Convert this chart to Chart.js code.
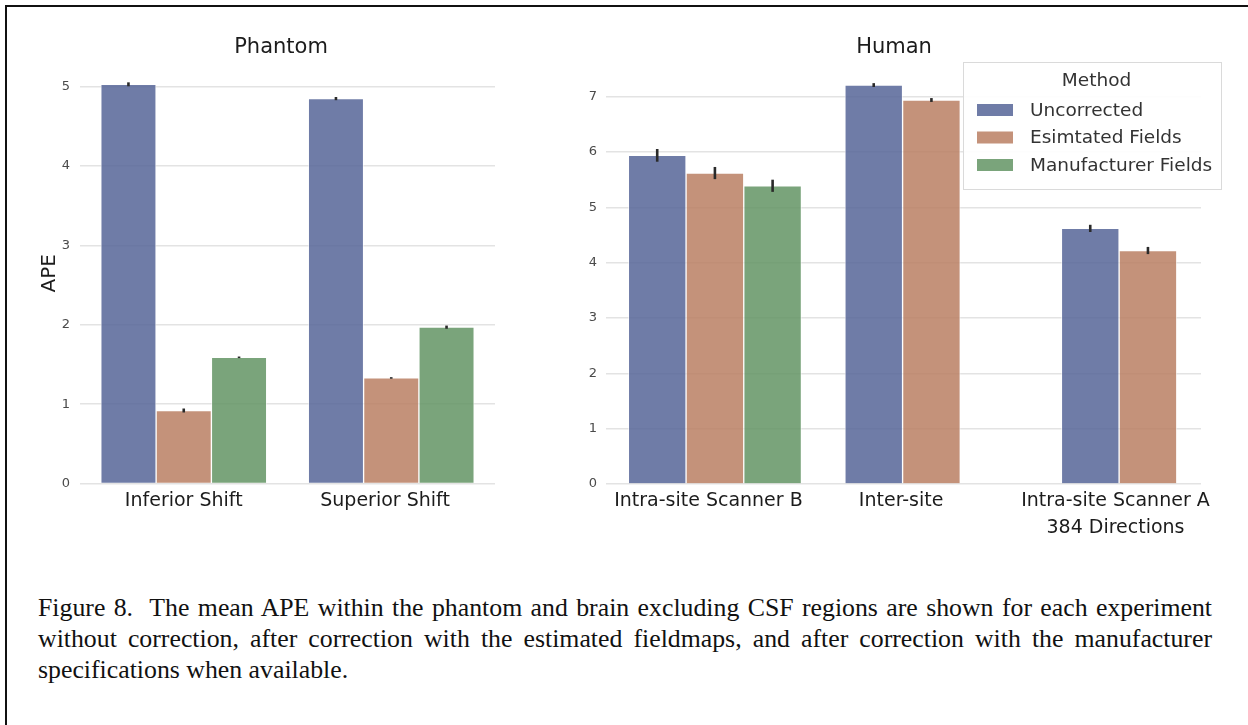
<!DOCTYPE html>
<html>
<head>
<meta charset="utf-8">
<script src="https://cdn.jsdelivr.net/npm/chart.js@4.4.0/dist/chart.umd.min.js"></script>
<style>
body { margin: 0; background: #fff; }
#page { position: relative; width: 1248px; height: 725px; overflow: hidden; background: #fff; }
#frame { position: absolute; left: 5px; top: 5px; width: 1300px; height: 800px; border-top: 2px solid #111; border-left: 2px solid #111; }
#c1 { position: absolute; left: 0; top: 0; }
#c2 { position: absolute; left: 587px; top: 0; }
#caption { position: absolute; left: 38px; top: 592px; width: 1174px; font-family: 'Liberation Serif', serif; font-size: 25.8px; line-height: 31px; color: #111; }
#caption .j { text-align: justify; text-align-last: justify; white-space: nowrap; }
</style>
</head>
<body>
<div id="page">
  <div id="frame"></div>
  <canvas id="c1" width="560" height="560"></canvas>
  <canvas id="c2" width="700" height="560"></canvas>
  <div id="caption">
    <div class="j">Figure 8.&nbsp; The mean APE within the phantom and brain excluding CSF regions are shown for each experiment</div>
    <div class="j">without correction, after correction with the estimated fieldmaps, and after correction with the manufacturer</div>
    <div>specifications when available.</div>
  </div>
</div>
<script>
// values
var methods = ['Uncorrected', 'Esimtated Fields', 'Manufacturer Fields'];

var phantomCategories = ['Inferior Shift', 'Superior Shift'];
var phantomUncorrected = [5.03, 4.85];
var phantomEstimated = [0.92, 1.33];
var phantomManufacturer = [1.59, 1.97];
var phantomUncorrectedErr = [0.025, 0.02];
var phantomEstimatedErr = [0.025, 0.01];
var phantomManufacturerErr = [0.01, 0.02];
var phantomTicks = [0, 1, 2, 3, 4, 5];

var humanCategories = [['Intra-site Scanner B'], ['Inter-site'], ['Intra-site Scanner A', '384 Directions']];
var humanUncorrected = [5.94, 7.21, 4.62];
var humanEstimated = [5.62, 6.94, 4.22];
var humanManufacturer = [5.39, null, null];
var humanUncorrectedErr = [0.115, 0.035, 0.065];
var humanEstimatedErr = [0.11, 0.035, 0.065];
var humanManufacturerErr = [0.11, null, null];
var humanTicks = [0, 1, 2, 3, 4, 5, 6, 7];

// the category labels in the figure sit a little left of their groups
var phantomLabelShift = [0, -0.03];
var humanLabelShift = [-0.03, -0.14, -0.15];

var colors = ['rgba(86,101,152,0.85)', 'rgba(186,127,99,0.85)', 'rgba(99,148,100,0.85)'];
var textColor = '#1c1c1c';

Chart.defaults.font.family = "'DejaVu Sans', sans-serif";

function makeDataset(i, values, errs, thickness) {
  return {
    label: methods[i],
    data: values.map(function (v, k) { return { x: k, y: v }; }),
    errors: errs,
    backgroundColor: colors[i],
    borderColor: 'rgba(255,255,255,0.55)',
    borderWidth: 1,
    barThickness: thickness
  };
}

var errorBars = {
  id: 'errorBars',
  afterDatasetsDraw: function (chart) {
    var ctx = chart.ctx;
    var yScale = chart.scales.y;
    ctx.save();
    ctx.strokeStyle = '#2a2a2a';
    ctx.lineWidth = 2.6;
    chart.data.datasets.forEach(function (ds, di) {
      var meta = chart.getDatasetMeta(di);
      ds.errors.forEach(function (e, i) {
        var v = ds.data[i].y;
        if (v == null || e == null) return;
        var bar = meta.data[i];
        ctx.beginPath();
        ctx.moveTo(bar.x, yScale.getPixelForValue(v - e));
        ctx.lineTo(bar.x, yScale.getPixelForValue(v + e));
        ctx.stroke();
      });
    });
    ctx.restore();
  }
};

var methodLegend = {
  id: 'methodLegend',
  afterDraw: function (chart) {
    var ctx = chart.ctx;
    var x = 376, y = 62, w = 259, h = 128;
    ctx.save();
    ctx.fillStyle = 'rgba(255,255,255,0.92)';
    ctx.fillRect(x, y, w, h);
    ctx.strokeStyle = '#dadada';
    ctx.lineWidth = 1;
    ctx.strokeRect(x + 0.5, y + 0.5, w - 1, h - 1);
    ctx.font = "18.5px 'DejaVu Sans'";
    ctx.fillStyle = '#333';
    ctx.textBaseline = 'middle';
    ctx.textAlign = 'center';
    ctx.fillText('Method', x + w / 2 + 4, 81);
    ctx.textAlign = 'left';
    chart.data.datasets.forEach(function (ds, i) {
      var cy = 110 + i * 27.5;
      ctx.fillStyle = ds.backgroundColor;
      ctx.fillRect(x + 14, cy - 6, 36, 12);
      ctx.fillStyle = '#333';
      ctx.fillText(ds.label, x + 67, cy + 1);
    });
    ctx.restore();
  }
};

new Chart(document.getElementById('c1'), {
  type: 'bar',
  data: {
    datasets: [
      makeDataset(0, phantomUncorrected, phantomUncorrectedErr, 55.3),
      makeDataset(1, phantomEstimated, phantomEstimatedErr, 55.3),
      makeDataset(2, phantomManufacturer, phantomManufacturerErr, 55.3)
    ]
  },
  options: {
    responsive: false,
    animation: false,
    layout: { padding: { left: 60, right: 58, top: 35.4, bottom: 0 } },
    plugins: {
      legend: { display: false },
      tooltip: { enabled: false },
      title: {
        display: true, text: 'Phantom', color: textColor,
        font: { size: 21, weight: 'normal' },
        padding: { top: 0, bottom: 2.3 }
      }
    },
    scales: {
      x: {
        type: 'linear', min: -0.5, max: 1.5, offset: false,
        grid: { display: false, drawTicks: false },
        border: { display: false },
        afterBuildTicks: function (s) {
          s.ticks = phantomCategories.map(function (c, i) { return { value: i + phantomLabelShift[i] }; });
        },
        afterFit: function (s) { s.height = 76.5; },
        ticks: {
          autoSkip: false, maxRotation: 0, padding: 6, color: textColor,
          font: { size: 19 },
          callback: function (v, i) { return phantomCategories[i]; }
        }
      },
      y: {
        min: 0, max: 5.3,
        afterBuildTicks: function (s) { s.ticks = phantomTicks.map(function (v) { return { value: v }; }); },
        afterFit: function (s) { s.width = 20; },
        grid: { color: '#e3e3e3', lineWidth: 1.6, drawTicks: false },
        border: { display: false },
        ticks: { padding: 10, color: '#4a4a4a', font: { size: 13 } },
        title: {
          display: true, text: 'APE', color: textColor,
          font: { size: 20 },
          padding: { top: -22.5, bottom: 0 }
        }
      },
      // empty right box so the title centres a little left of the plot centre
      yRight: {
        position: 'right', display: true,
        grid: { display: false, drawTicks: false },
        border: { display: false },
        ticks: { display: false },
        afterFit: function (s) { s.width = 7; }
      }
    }
  },
  plugins: [errorBars]
});

new Chart(document.getElementById('c2'), {
  type: 'bar',
  data: {
    datasets: [
      makeDataset(0, humanUncorrected, humanUncorrectedErr, 57.7),
      makeDataset(1, humanEstimated, humanEstimatedErr, 57.7),
      makeDataset(2, humanManufacturer, humanManufacturerErr, 57.7)
    ]
  },
  options: {
    responsive: false,
    animation: false,
    layout: { padding: { left: 0, right: 86, top: 35.4, bottom: 0 } },
    plugins: {
      legend: { display: false },
      tooltip: { enabled: false },
      title: {
        display: true, text: 'Human', color: textColor,
        font: { size: 21, weight: 'normal' },
        padding: { top: 0, bottom: 2.9 }
      }
    },
    scales: {
      x: {
        type: 'linear', min: -0.503, max: 2.245, offset: false,
        grid: { display: false, drawTicks: false },
        border: { display: false },
        afterBuildTicks: function (s) {
          s.ticks = humanCategories.map(function (c, i) { return { value: i + humanLabelShift[i] }; });
        },
        afterFit: function (s) { s.height = 76; },
        ticks: {
          autoSkip: false, maxRotation: 0, padding: 3.2, color: textColor,
          font: { size: 19, lineHeight: 1.45 },
          callback: function (v, i) { return humanCategories[i]; }
        }
      },
      y: {
        min: 0, max: 7.6,
        afterBuildTicks: function (s) { s.ticks = humanTicks.map(function (v) { return { value: v }; }); },
        afterFit: function (s) { s.width = 19; },
        grid: { color: '#e3e3e3', lineWidth: 1.6, drawTicks: false },
        border: { display: false },
        ticks: { padding: 9, color: '#4a4a4a', font: { size: 13 } }
      }
    }
  },
  plugins: [errorBars, methodLegend]
});
</script>
</body>
</html>
